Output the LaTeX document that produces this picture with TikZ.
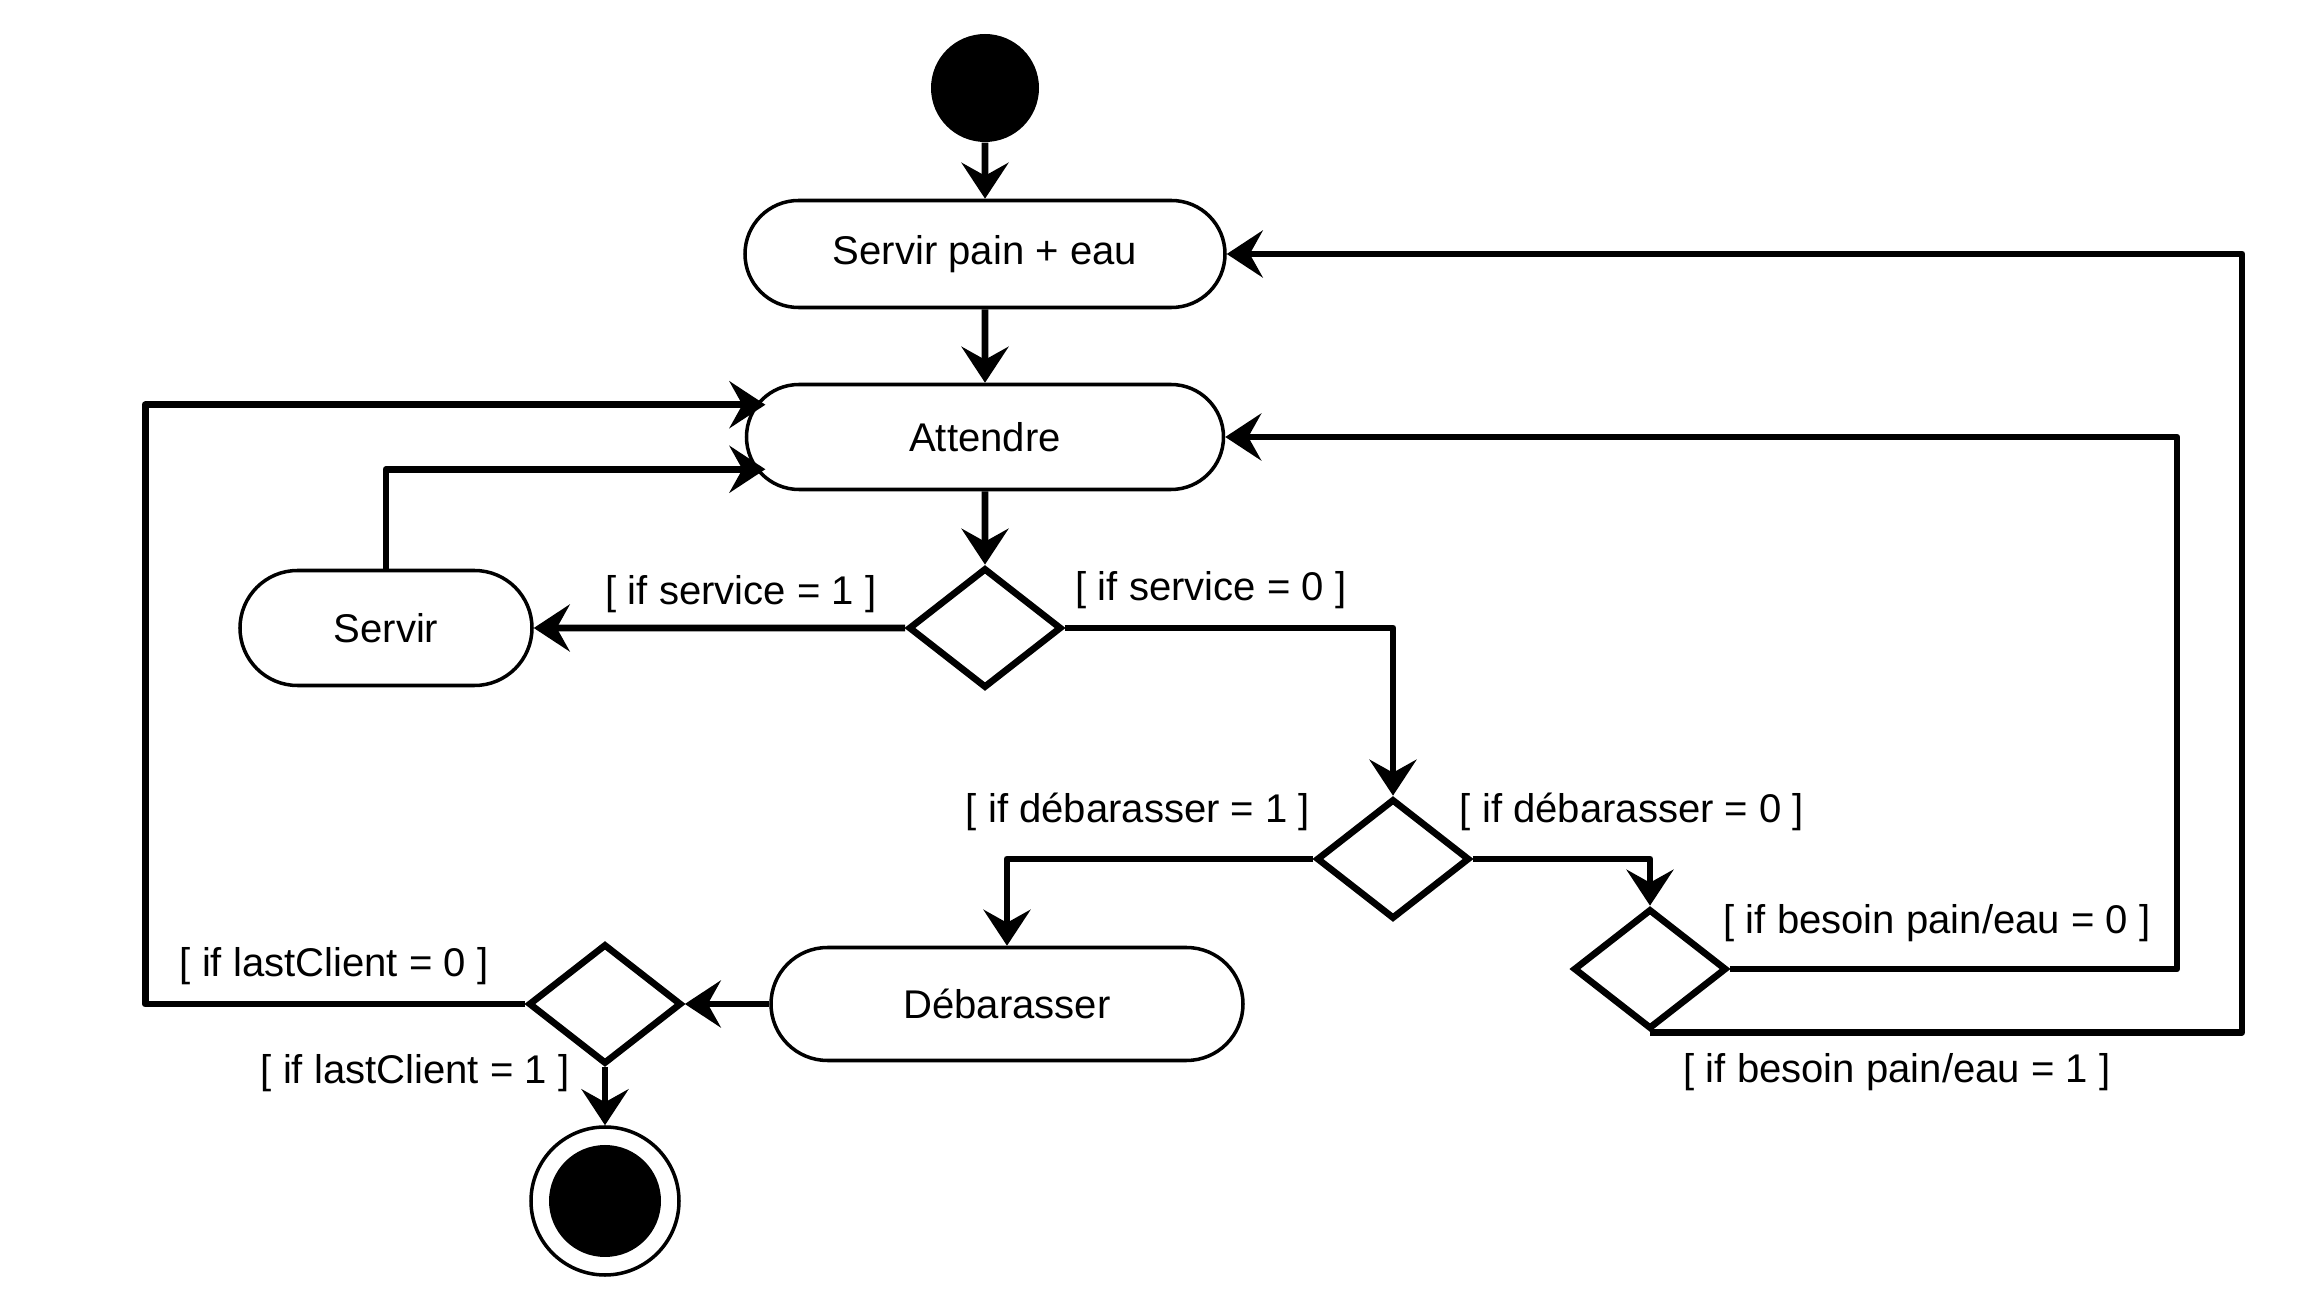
\documentclass[tikz,border=0pt]{standalone}
\usepackage{fontspec}
\setmainfont{Liberation Sans}
\usetikzlibrary{positioning}
\usetikzlibrary{shapes.geometric}
\usetikzlibrary{shapes.misc}
\usetikzlibrary{arrows.meta}

\tikzset{
    activity/.style={draw, rounded rectangle, line width=1pt, inner sep=0pt},
    decision/.style={draw, diamond, line width=1.9pt, minimum width=1.53cm, minimum height=1.20cm, inner sep=0pt},
    flow/.style={-{Stealth[length=0.36cm, width=0.47cm, inset=0.13cm]}, line width=1.9pt, line join=round},
    guard/.style={inner sep=0pt}
}

\begin{document}
\begin{tikzpicture}[font=\fontsize{11.4}{13}\selectfont]
    \useasboundingbox (0, 0) rectangle (23.02, -13.08);

    \node[circle, fill=black, minimum size=1.08cm, inner sep=0pt] (start) at (9.85, -0.88) {};
    \node[activity, minimum width=4.80cm, minimum height=1.07cm] (pain) at (9.85, -2.54) {Servir pain + eau};
    \node[activity, minimum width=4.77cm, minimum height=1.05cm] (attendre) at (9.85, -4.37) {Attendre};
    \node[decision] (d1) at (9.85, -6.28) {};
    \node[activity, minimum width=2.92cm, minimum height=1.15cm] (servir) at (3.86, -6.28) {Servir};
    \node[decision] (d2) at (13.93, -8.59) {};
    \node[activity, minimum width=4.72cm, minimum height=1.13cm] (deb) at (10.07, -10.04) {Débarasser};
    \node[decision] (d3) at (6.05, -10.04) {};
    \node[decision] (d4) at (16.50, -9.69) {};
    \node[circle, draw, line width=1pt, minimum size=1.48cm, inner sep=0pt] (endc) at (6.05, -12.01) {};
    \node[circle, fill=black, minimum size=1.12cm, inner sep=0pt] (endin) at (endc) {};

    \node[guard] (s1) at (7.41, -5.94) {[ if service = 1 ]};
    \node[guard] (s0) at (12.11, -5.90) {[ if service = 0 ]};
    \node[guard] (b1) at (11.38, -8.12) {[ if débarasser = 1 ]};
    \node[guard] (b0) at (16.32, -8.12) {[ if débarasser = 0 ]};
    \node[guard] (p0) at (19.37, -9.23) {[ if besoin pain/eau = 0 ]};
    \node[guard] (p1) at (18.97, -10.72) {[ if besoin pain/eau = 1 ]};
    \node[guard] (l0) at (3.34, -9.66) {[ if lastClient = 0 ]};
    \node[guard] (l1) at (4.15, -10.73) {[ if lastClient = 1 ]};

    \draw[flow] (start) -- (pain);
    \draw[flow] (pain) -- (attendre);
    \draw[flow] (attendre) -- (d1);
    \draw[flow] (d1) -- (servir);
    \draw[flow] (servir.north) |- ([xshift=0.1cm]attendre.188);
    \draw[flow] (d1.east) -| (d2.north);
    \draw[flow] (d2.west) -| (deb.north);
    \draw[flow] (d2.east) -| (d4.north);
    \draw[flow] (d4.east) -- ++(4.47, 0) |- (attendre.east);
    \draw[flow] (d4.south) -- ++(5.92, 0) |- (pain.east);
    \draw[flow] (deb) -- (d3);
    \draw[flow] (d3.west) -- ++(-3.80, 0) |- ([xshift=0.1cm]attendre.172);
    \draw[flow] (d3.south) -- (endc.north);
\end{tikzpicture}
\end{document}
